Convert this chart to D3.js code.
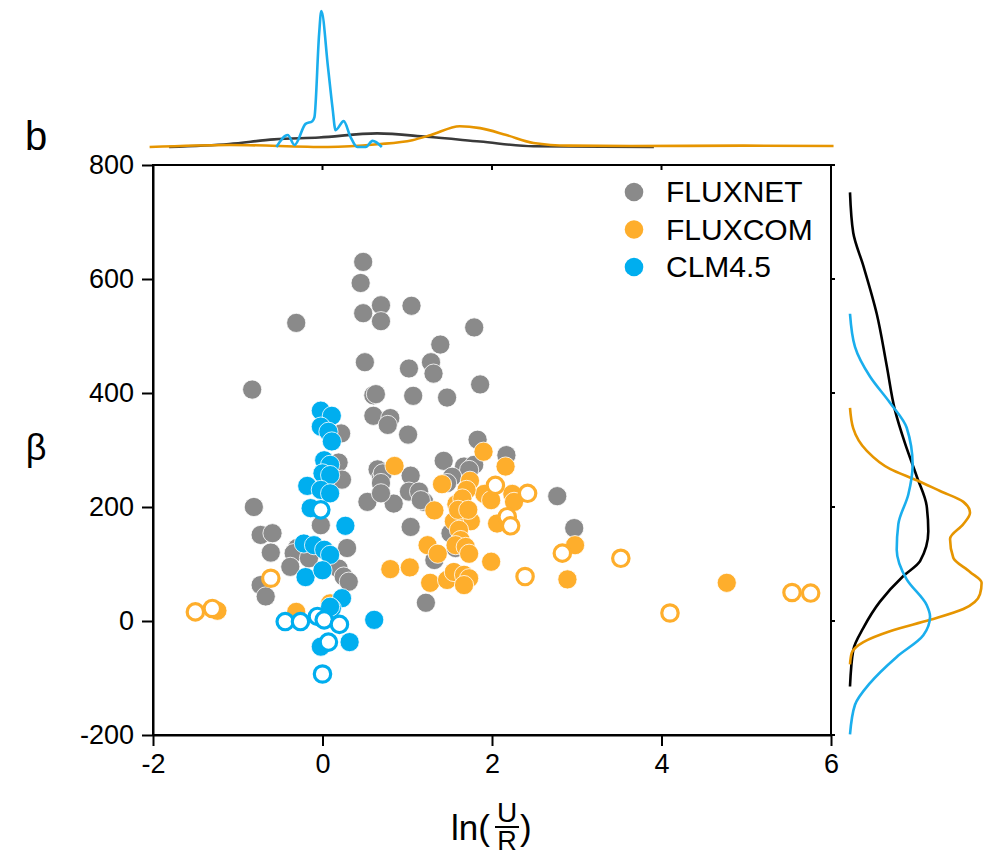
<!DOCTYPE html>
<html>
<head>
<meta charset="utf-8">
<script src="https://cdn.jsdelivr.net/npm/d3@7"></script>
<style>
  body { margin: 0; background: #fff; }
  svg text { font-family: Arial, "Liberation Sans", sans-serif; fill: #000; }
  .axis path, .axis line { stroke: #000; stroke-width: 2; }
</style>
</head>
<body>
<script>
// scatter points [ln(U/R), beta]
var fluxnetPts = [
  [0.48, 630], [0.45, 593], [0.69, 554], [1.05, 553], [0.48, 540], [0.69, 526], [-0.31, 523],
  [1.79, 515], [1.39, 485], [0.50, 454], [1.28, 454], [1.02, 443], [1.31, 434], [1.86, 415],
  [-0.83, 406], [0.60, 396], [0.63, 398], [1.07, 395], [1.47, 392], [0.60, 360], [0.80, 356],
  [0.77, 344], [1.01, 327], [0.22, 329], [1.83, 318], [2.17, 291], [1.43, 281], [0.19, 278],
  [0.23, 248], [0.65, 266], [0.69, 251], [1.04, 255], [1.67, 271], [1.79, 274], [1.73, 265],
  [1.53, 253], [0.71, 259], [0.69, 242], [1.02, 227], [1.14, 227], [0.84, 206], [1.20, 209],
  [2.77, 219], [2.97, 163], [1.04, 165], [1.51, 154], [1.57, 128], [1.32, 107], [1.22, 32],
  [0.53, 209], [0.69, 224], [1.16, 212], [-0.81, 200], [-0.02, 168], [-0.73, 151], [-0.59, 154],
  [0.29, 128], [-0.61, 120], [-0.30, 128], [-0.34, 119], [-0.38, 95], [-0.16, 110], [0.19, 92],
  [0.25, 78], [0.31, 69], [-0.73, 63], [-0.67, 43], [1.47, 242]
];
var fluxcomPts = [
  [0.85, 272], [1.90, 297], [2.16, 271], [1.41, 240], [1.74, 246], [1.91, 223], [1.99, 212],
  [2.24, 223], [2.26, 209], [1.32, 194], [1.58, 205], [1.66, 180], [1.75, 175], [1.55, 175],
  [2.06, 171], [1.61, 160], [1.63, 142], [1.57, 133], [1.69, 130], [1.73, 118], [1.24, 133],
  [1.36, 118], [1.99, 104], [2.98, 133], [0.80, 91], [1.03, 94], [1.27, 67], [1.47, 72],
  [1.55, 86], [1.67, 81], [1.73, 75], [1.67, 63], [2.89, 73], [4.77, 67], [-0.31, 16],
  [0.09, 31], [-1.24, 18], [1.70, 230], [1.65, 215], [1.60, 195], [1.72, 195]
];
var fluxcomOpen = [
  [-1.50, 16], [-1.30, 22], [-0.61, 75], [2.04, 238], [2.42, 224], [2.18, 183], [2.22, 167],
  [2.83, 119], [2.39, 78], [3.52, 110], [4.10, 14], [5.54, 50], [5.76, 49]
];
var clmPts = [
  [-0.02, 369], [0.11, 360], [-0.02, 341], [0.07, 332], [0.11, 315], [0.02, 282], [0.09, 274],
  [0.00, 259], [0.09, 256], [-0.18, 237], [-0.02, 230], [0.09, 224], [-0.14, 198], [0.27, 167],
  [-0.22, 136], [-0.10, 133], [0.02, 125], [0.09, 116], [-0.20, 77], [0.00, 89], [0.23, 40],
  [0.11, 22], [0.09, 25], [0.61, 2], [0.32, -37], [-0.02, -45]
];
var clmOpen = [
  [-0.02, 195], [-0.44, -1], [-0.26, -1], [-0.06, 8], [0.02, 2], [0.20, -6], [0.07, -37], [0.00, -93]
];

// marginal densities, top: [ln(U/R), density]
var topFluxnet = [
  [-1.81, 0], [-1.10, 0.022], [-0.57, 0.056], [-0.04, 0.07], [0.645, 0.1], [1.23, 0.075],
  [1.86, 0.04], [2.49, 0.005], [3.91, 0]
];
var topFluxcom = [
  [-2.04, 0], [-1.10, 0.015], [0.065, 0.0], [0.645, 0.02], [1.06, 0.05], [1.28, 0.088],
  [1.62, 0.153], [1.86, 0.139], [2.17, 0.088], [2.49, 0.03], [2.91, 0.01], [3.65, 0.007],
  [4.97, 0.01], [6.03, 0.007]
];
var topClm = [
  [-0.544, 0], [-0.41, 0.088], [-0.33, 0.015], [-0.20, 0.17], [-0.12, 0.19], [-0.095, 0.22],
  [-0.04, 0.83], [-0.014, 1.0], [0.065, 0.586], [0.118, 0.29], [0.154, 0.124], [0.25, 0.19],
  [0.33, 0.075], [0.41, 0], [0.51, 0], [0.59, 0.045], [0.70, 0]
];
// marginal densities, right: [beta, density]
var rightFluxnet = [
  [752, 0], [681, 0.024], [623, 0.099], [539, 0.198], [448, 0.272], [370, 0.333], [312, 0.407],
  [254, 0.494], [202, 0.568], [157, 0.58], [105, 0.519], [79, 0.395], [34, 0.222], [-12, 0.099],
  [-50, 0.025], [-115, 0]
];
var rightFluxcom = [
  [374, 0], [338, 0.024], [299, 0.123], [267, 0.296], [247, 0.494], [228, 0.667], [209, 0.84],
  [190, 0.889], [170, 0.84], [144, 0.741], [111, 0.765], [86, 0.889], [67, 0.975], [47, 0.963],
  [21, 0.84], [2, 0.593], [-18, 0.296], [-37, 0.099], [-56, 0.013], [-76, 0]
];
var rightClm = [
  [539, 0], [481, 0.037], [429, 0.148], [383, 0.296], [339, 0.42], [274, 0.464], [222, 0.432],
  [170, 0.358], [125, 0.346], [73, 0.42], [28, 0.568], [8, 0.593], [-25, 0.543], [-63, 0.346],
  [-109, 0.148], [-147, 0.037], [-199, 0]
];

var xTicks = [-2, 0, 2, 4, 6];
var yTicks = [-200, 0, 200, 400, 600, 800];
var legendNames = ["FLUXNET", "FLUXCOM", "CLM4.5"];

var gray = "#8a8a8a", orange = "#feae2c", blue = "#00aeef";
var width = 984, height = 855;

var svg = d3.select("body").append("svg")
  .attr("width", width)
  .attr("height", height);

var x = d3.scaleLinear().domain([-2, 6]).range([153, 831]);
var y = d3.scaleLinear().domain([-200, 800]).range([735, 165]);

// frame
svg.append("rect")
  .attr("x", 153).attr("y", 165)
  .attr("width", 678).attr("height", 570)
  .attr("fill", "none").attr("stroke", "#000").attr("stroke-width", 2);

// axes (plain hyphen for negatives, like the original)
var plain = function(d) { return String(d); };
var xAxis = svg.append("g")
  .attr("class", "axis")
  .attr("transform", "translate(0,735)")
  .call(d3.axisBottom(x).tickValues(xTicks).tickFormat(plain).tickSize(11).tickPadding(8).tickSizeOuter(0));
xAxis.selectAll("text").style("font-size", "27px");

var yAxis = svg.append("g")
  .attr("class", "axis")
  .attr("transform", "translate(153,0)")
  .call(d3.axisLeft(y).tickValues(yTicks).tickFormat(plain).tickSize(11).tickPadding(8).tickSizeOuter(0));
yAxis.selectAll("text").style("font-size", "27px");

// small ticks on top and right borders
svg.append("g").selectAll("line")
  .data(xTicks)
  .enter().append("line")
  .attr("x1", function(d) { return x(d); })
  .attr("x2", function(d) { return x(d); })
  .attr("y1", 165).attr("y2", 170)
  .attr("stroke", "#000").attr("stroke-width", 2);
svg.append("g").selectAll("line")
  .data(yTicks)
  .enter().append("line")
  .attr("x1", 831).attr("x2", 835)
  .attr("y1", function(d) { return y(d); })
  .attr("y2", function(d) { return y(d); })
  .attr("stroke", "#000").attr("stroke-width", 2);

// points
function drawPoints(data, color, open) {
  svg.append("g").selectAll("circle")
    .data(data)
    .enter().append("circle")
    .attr("cx", function(d) { return x(d[0]); })
    .attr("cy", function(d) { return y(d[1]); })
    .attr("r", open ? 8.2 : 9.6)
    .attr("fill", open ? "#fff" : color)
    .attr("stroke", open ? color : "#fff")
    .attr("stroke-width", open ? 3.2 : 0.8);
}
drawPoints(fluxnetPts, gray, false);
drawPoints(fluxcomPts, orange, false);
drawPoints(fluxcomOpen, orange, true);
drawPoints(clmPts, blue, false);
drawPoints(clmOpen, blue, true);

// legend
var legend = svg.append("g").selectAll("g")
  .data(legendNames)
  .enter().append("g")
  .attr("transform", function(d, i) { return "translate(634," + (192 + i * 37.5) + ")"; });
legend.append("circle")
  .attr("r", 9.3)
  .attr("fill", function(d, i) { return [gray, orange, blue][i]; });
legend.append("text")
  .attr("x", 32)
  .attr("y", 10)
  .style("font-size", "30px")
  .text(function(d) { return d; });

// top marginal
var topD = d3.scaleLinear().domain([0, 1]).range([147, 11]);
var topLine = d3.line()
  .x(function(d) { return x(d[0]); })
  .y(function(d) { return topD(d[1]); })
  .curve(d3.curveMonotoneX);
[[topFluxnet, "#3a3a3a"], [topFluxcom, "#e69500"], [topClm, "#1aaeed"]].forEach(function(s) {
  svg.append("path")
    .datum(s[0])
    .attr("d", topLine)
    .attr("fill", "none")
    .attr("stroke", s[1])
    .attr("stroke-width", 2.6);
});

// right marginal
var rightD = d3.scaleLinear().domain([0, 1]).range([850, 985]);
var rightLine = d3.line()
  .x(function(d) { return rightD(d[1]); })
  .y(function(d) { return y(d[0]); })
  .curve(d3.curveMonotoneY);
[[rightFluxnet, "#000"], [rightFluxcom, "#e69500"], [rightClm, "#1aaeed"]].forEach(function(s) {
  svg.append("path")
    .datum(s[0])
    .attr("d", rightLine)
    .attr("fill", "none")
    .attr("stroke", s[1])
    .attr("stroke-width", 2.6);
});

// labels
svg.append("text")
  .attr("x", 25).attr("y", 150)
  .style("font-size", "40px")
  .text("b");

svg.append("text")
  .attr("x", 36).attr("y", 460)
  .attr("text-anchor", "middle")
  .style("font-size", "36px")
  .text("β");

// x label ln(U/R) with stacked fraction
var xl = svg.append("g");
xl.append("text")
  .attr("x", 451).attr("y", 840)
  .style("font-size", "35px")
  .text("ln(");
xl.append("text")
  .attr("x", 507).attr("y", 822)
  .attr("text-anchor", "middle")
  .style("font-size", "28px")
  .text("U");
xl.append("line")
  .attr("x1", 495).attr("x2", 519)
  .attr("y1", 827).attr("y2", 827)
  .attr("stroke", "#000").attr("stroke-width", 2);
xl.append("text")
  .attr("x", 507).attr("y", 850)
  .attr("text-anchor", "middle")
  .style("font-size", "27px")
  .text("R");
xl.append("text")
  .attr("x", 520).attr("y", 840)
  .style("font-size", "35px")
  .text(")");
</script>
</body>
</html>
